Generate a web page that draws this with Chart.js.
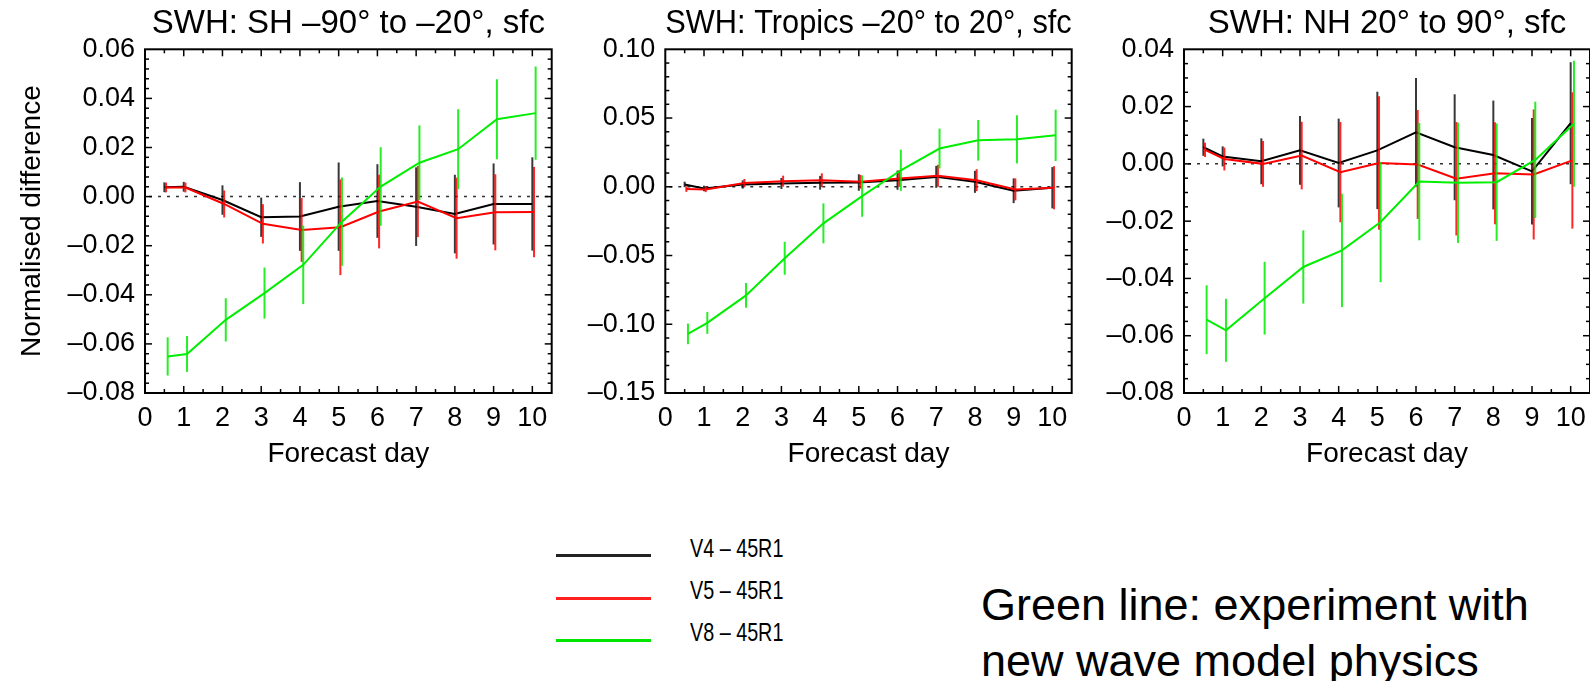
<!DOCTYPE html>
<html>
<head>
<meta charset="utf-8">
<script src="https://cdn.jsdelivr.net/npm/chart.js@4.4.0/dist/chart.umd.min.js"></script>
<style>
html,body{margin:0;padding:0;background:#fff;width:1590px;height:681px;overflow:hidden;font-family:"Liberation Sans",Arial,Helvetica,sans-serif;}
.panel{position:absolute;top:0;height:470px;}
.legline{position:absolute;left:556px;width:95px;height:3px;}
.leglab{position:absolute;left:690px;font-size:26px;line-height:26px;color:#000;white-space:nowrap;transform:scaleX(0.76);transform-origin:0 0;}
.note{position:absolute;left:981px;top:577px;font-size:45px;line-height:56px;color:#000;white-space:nowrap;}
</style>
</head>
<body>
<div class="panel" style="left:0;width:560px"><canvas id="c1" width="560" height="470"></canvas></div>
<div class="panel" style="left:560px;width:520px"><canvas id="c2" width="520" height="470"></canvas></div>
<div class="panel" style="left:1080px;width:510px"><canvas id="c3" width="510" height="470"></canvas></div>

<div class="legline" style="top:554px;background:#222"></div>
<div class="legline" style="top:597px;background:#ff2020"></div>
<div class="legline" style="top:639px;background:#00e600"></div>
<div class="leglab" id="lab0" style="top:535px"></div>
<div class="leglab" id="lab1" style="top:577px"></div>
<div class="leglab" id="lab2" style="top:619px"></div>
<div class="note">Green line: experiment with<br>new wave model physics</div>

<script>
// ---------------- data ----------------
const forecastDays = [0.5, 1, 2, 3, 4, 5, 6, 7, 8, 9, 10];
const xTickValues = [0, 1, 2, 3, 4, 5, 6, 7, 8, 9, 10];
const seriesNames = ['V4 \u2013 45R1', 'V5 \u2013 45R1', 'V8 \u2013 45R1'];

// SH panel
const shTitle = 'SWH: SH \u201390\u00b0 to \u201320\u00b0, sfc';
const shV4    = [0.0038, 0.0040, -0.0014, -0.0084, -0.0081, -0.0041, -0.0018, -0.0041, -0.0071, -0.0030, -0.0030];
const shV4Err = [0.0020, 0.0020, 0.0060, 0.0080, 0.0140, 0.0180, 0.0150, 0.0160, 0.0160, 0.0165, 0.0190];
const shV5    = [0.0037, 0.0037, -0.0030, -0.0111, -0.0136, -0.0125, -0.0061, -0.0020, -0.0088, -0.0064, -0.0063];
const shV5Err = [0.0020, 0.0020, 0.0055, 0.0080, 0.0130, 0.0195, 0.0150, 0.0145, 0.0165, 0.0155, 0.0184];
const shV8    = [-0.0651, -0.0641, -0.0502, -0.0393, -0.0278, -0.0102, 0.0041, 0.0138, 0.0193, 0.0315, 0.0340];
const shV8Err = [0.0078, 0.0073, 0.0088, 0.0104, 0.0160, 0.0180, 0.0160, 0.0152, 0.0163, 0.0163, 0.0190];
const shYTicks = [-0.08, -0.06, -0.04, -0.02, 0.00, 0.02, 0.04, 0.06];

// Tropics panel
const trTitle = 'SWH: Tropics \u201320\u00b0 to 20\u00b0, sfc';
const trV4    = [0.0017, -0.0012, 0.0017, 0.0024, 0.0029, 0.0031, 0.0048, 0.0072, 0.0036, -0.0029, -0.0007];
const trV4Err = [0.0020, 0.0020, 0.0030, 0.0040, 0.0050, 0.0060, 0.0070, 0.0080, 0.0080, 0.0090, 0.0150];
const trV5    = [-0.0017, -0.0019, 0.0027, 0.0041, 0.0048, 0.0036, 0.0060, 0.0080, 0.0048, -0.0019, -0.0007];
const trV5Err = [0.0020, 0.0020, 0.0030, 0.0040, 0.0050, 0.0050, 0.0060, 0.0080, 0.0080, 0.0080, 0.0157];
const trV8    = [-0.1070, -0.0990, -0.0790, -0.0520, -0.0266, -0.0068, 0.0120, 0.0278, 0.0338, 0.0345, 0.0374];
const trV8Err = [0.0075, 0.0080, 0.0090, 0.0120, 0.0145, 0.0150, 0.0150, 0.0145, 0.0148, 0.0175, 0.0187];
const trYTicks = [-0.15, -0.10, -0.05, 0.00, 0.05, 0.10];

// NH panel
const nhTitle = 'SWH: NH 20\u00b0 to 90\u00b0, sfc';
const nhV4    = [0.0058, 0.0026, 0.0009, 0.0047, 0.0003, 0.0047, 0.0110, 0.0058, 0.0031, -0.0026, 0.0142];
const nhV4Err = [0.0030, 0.0035, 0.0080, 0.0120, 0.0155, 0.0205, 0.0190, 0.0185, 0.0190, 0.0186, 0.0213];
const nhV5    = [0.0049, 0.0017, 0.0000, 0.0029, -0.0029, 0.0003, -0.0002, -0.0052, -0.0033, -0.0037, 0.0012];
const nhV5Err = [0.0025, 0.0040, 0.0080, 0.0118, 0.0175, 0.0233, 0.0190, 0.0198, 0.0178, 0.0227, 0.0238];
const nhV8    = [-0.0544, -0.0581, -0.0469, -0.0360, -0.0302, -0.0203, -0.0062, -0.0066, -0.0064, 0.0014, 0.0140];
const nhV8Err = [0.0120, 0.0110, 0.0127, 0.0128, 0.0198, 0.0210, 0.0205, 0.0210, 0.0205, 0.0203, 0.0220];
const nhYTicks = [-0.08, -0.06, -0.04, -0.02, 0.00, 0.02, 0.04];

// ---------------- rendering ----------------
seriesNames.forEach((n, i) => { document.getElementById('lab' + i).textContent = n; });

Chart.defaults.font.family = '"Liberation Sans", Arial, Helvetica, sans-serif';
Chart.defaults.color = '#000';

const COLORS = ['#000000', '#ff0000', '#00ee00'];
const ERRCOLORS = ['rgba(0,0,0,0.78)', 'rgba(255,0,0,0.85)', 'rgba(0,235,0,0.85)'];
const DX = [0, 1.7, 3.3];

function fmtY(v) {
  const s = Math.abs(v).toFixed(2);
  return (v < -1e-9 ? '\u2013' : '') + s;
}

const idlPlugin = {
  id: 'idl',
  beforeDatasetsDraw(chart) {
    const {ctx, scales: {x, y}} = chart;
    const y0 = y.getPixelForValue(0);
    ctx.save();
    ctx.strokeStyle = '#333';
    ctx.lineWidth = 1.5;
    ctx.setLineDash([3, 6]);
    ctx.beginPath();
    ctx.moveTo(x.getPixelForValue(x.min) + 4, y0);
    ctx.lineTo(x.getPixelForValue(x.max), y0);
    ctx.stroke();
    ctx.restore();
  },
  beforeDatasetDraw(chart, args) {
    const ds = chart.data.datasets[args.index];
    chart.ctx.save();
    chart.ctx.translate(ds.dx || 0, 0);
  },
  afterDatasetDraw(chart, args) {
    const ds = chart.data.datasets[args.index];
    const {ctx, scales: {x, y}} = chart;
    ctx.save();
    ctx.strokeStyle = ds.errColor;
    ctx.lineWidth = 2;
    ds.data.forEach((p, i) => {
      const e = ds.err[i];
      const px = x.getPixelForValue(p.x);
      ctx.beginPath();
      ctx.moveTo(px, y.getPixelForValue(p.y - e));
      ctx.lineTo(px, y.getPixelForValue(p.y + e));
      ctx.stroke();
    });
    ctx.restore();
    chart.ctx.restore();
  },
  afterDraw(chart) {
    const {ctx, chartArea: a, scales: {x, y}} = chart;
    const o = chart.options.plugins.idl;
    const MAJ = 7, MIN = 4;
    ctx.save();
    ctx.strokeStyle = '#000';
    ctx.lineWidth = 1.5;
    const seg = (x1, y1, x2, y2) => { ctx.beginPath(); ctx.moveTo(x1, y1); ctx.lineTo(x2, y2); ctx.stroke(); };
    const near = (v, arr) => arr.some(t => Math.abs(t - v) < 1e-6);
    const nx = Math.round((x.max - x.min) / 0.5);
    for (let i = 1; i < nx; i++) {
      const v = x.min + i * 0.5;
      const len = near(v, xTickValues) ? MAJ : MIN;
      const px = x.getPixelForValue(v);
      seg(px, a.bottom, px, a.bottom - len);
      seg(px, a.top, px, a.top + len);
    }
    const ny = Math.round((y.max - y.min) / o.yMinor);
    for (let i = 1; i < ny; i++) {
      const v = y.min + i * o.yMinor;
      const len = near(v, o.yTicks) ? MAJ : MIN;
      const py = y.getPixelForValue(v);
      seg(a.left, py, a.left + len, py);
      seg(a.right, py, a.right - len, py);
    }
    ctx.lineWidth = 2;
    ctx.strokeRect(a.left, a.top, a.right - a.left, a.bottom - a.top);
    ctx.restore();
  }
};

function makePanel(id, title, series, errs, yTicks, yMinor, yAxisWidth, padRight, showYTitle) {
  const datasets = series.map((vals, k) => ({
    label: seriesNames[k],
    data: forecastDays.map((d, i) => ({x: d, y: vals[i]})),
    err: errs[k],
    errColor: ERRCOLORS[k],
    dx: DX[k],
    borderColor: COLORS[k],
    backgroundColor: COLORS[k],
    borderWidth: 2,
    pointRadius: 0,
    tension: 0,
    fill: false,
    order: 3 - k
  }));
  return new Chart(document.getElementById(id), {
    type: 'line',
    data: {datasets},
    options: {
      responsive: false,
      animation: false,
      devicePixelRatio: 1,
      layout: {autoPadding: false, padding: {left: 0, right: padRight, top: 0, bottom: 0}},
      plugins: {
        legend: {display: false},
        tooltip: {enabled: false},
        title: {
          display: true, text: title, fullSize: false, color: '#000',
          font: {size: 33, weight: 'normal', lineHeight: 1.2},
          padding: {top: 4.4, bottom: 5.3}
        },
        idl: {yTicks: yTicks, yMinor: yMinor}
      },
      scales: {
        x: {
          type: 'linear', min: 0, max: 10.5,
          grid: {display: false, drawTicks: false},
          border: {display: false},
          ticks: {font: {size: 27}, color: '#000', padding: 9, maxRotation: 0, autoSkip: false,
                  callback: v => String(v)},
          afterBuildTicks: s => { s.ticks = xTickValues.map(v => ({value: v})); },
          afterFit: s => { s.height = 77; s.paddingLeft = 0; s.paddingRight = 0; },
          title: {display: true, text: 'Forecast day', color: '#000',
                  font: {size: 28, lineHeight: 1.1}, padding: {top: 0, bottom: 0.5}}
        },
        y: {
          type: 'linear', min: yTicks[0], max: yTicks[yTicks.length - 1],
          grid: {display: false, drawTicks: false},
          border: {display: false},
          ticks: {font: {size: 27}, color: '#000', padding: 10, callback: v => fmtY(v)},
          afterBuildTicks: s => { s.ticks = yTicks.map(v => ({value: v})); },
          afterFit: s => { s.width = yAxisWidth; s.paddingTop = 0; s.paddingBottom = 0; },
          title: {display: showYTitle, text: 'Normalised difference', color: '#000',
                  font: {size: 28, lineHeight: 1.2}, padding: {top: 15, bottom: 0}}
        }
      }
    },
    plugins: [idlPlugin]
  });
}

makePanel('c1', shTitle, [shV4, shV5, shV8], [shV4Err, shV5Err, shV8Err], shYTicks, 0.004, 145, 8.3, true);
makePanel('c2', trTitle, [trV4, trV5, trV8], [trV4Err, trV5Err, trV8Err], trYTicks, 0.01, 105.3, 8.3, false);
makePanel('c3', nhTitle, [nhV4, nhV5, nhV8], [nhV4Err, nhV5Err, nhV8Err], nhYTicks, 0.005, 104, 0, false);
</script>
</body>
</html>
